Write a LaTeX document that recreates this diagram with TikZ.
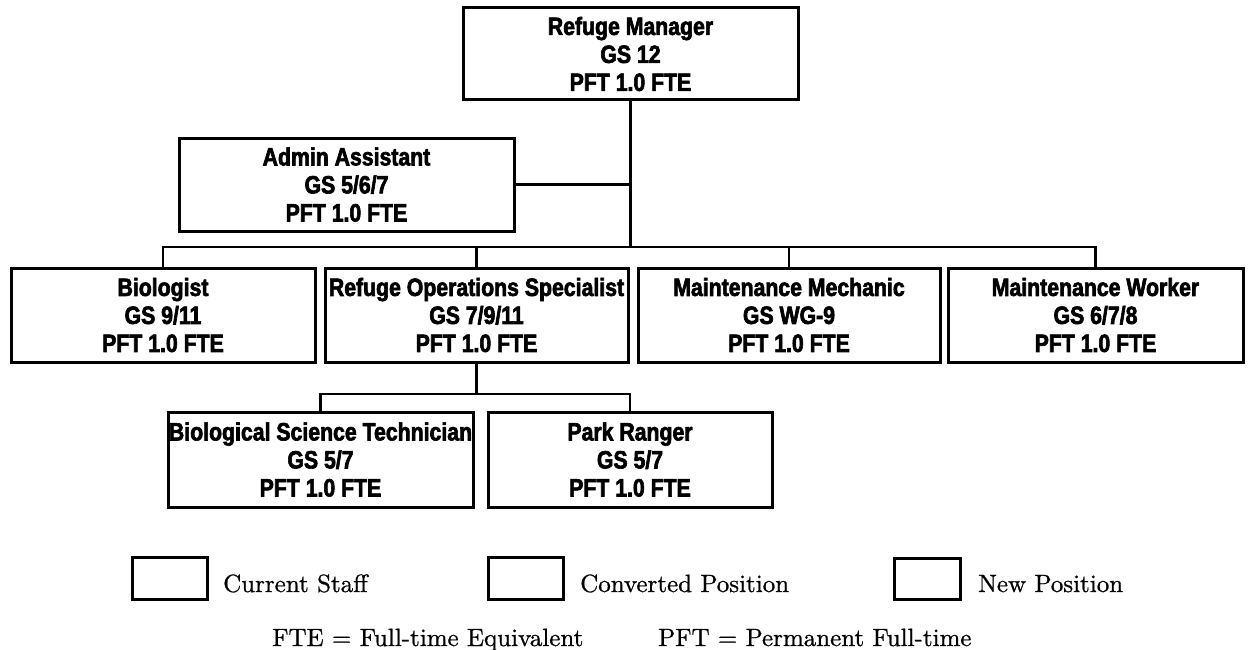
\documentclass[tikz,border=0pt]{standalone}
\usepackage{fontspec}
\newfontfamily\boxfont[FakeStretch=0.85,FakeBold=2.5]{Liberation Sans}
\newfontfamily\legfont[FakeBold=0.8]{lmroman10-regular.otf}
\begin{document}
\begin{tikzpicture}[x=1pt,y=-1pt,
  posbox/.style={draw=black, line width=3pt, rectangle, inner sep=0pt, align=center,
    font={\boxfont\bfseries\fontsize{25}{28}\selectfont}},
  legbox/.style={draw=black, line width=3pt, rectangle, inner sep=0pt},
  legtext/.style={anchor=base west, inner sep=0pt, font={\legfont\fontsize{25}{28}\selectfont}},
  conn/.style={line width=2.2pt}]
\useasboundingbox (0,0) rectangle (1252,650);
% positions
\node[posbox, minimum width=335pt, minimum height=92pt] (mgr) at (630.5,54) {Refuge Manager\\GS 12\\PFT 1.0 FTE};
\node[posbox, minimum width=335pt, minimum height=93pt] (admin) at (346.5,184.5) {Admin Assistant\\GS 5/6/7\\PFT 1.0 FTE};
\node[posbox, minimum width=304pt, minimum height=94pt] (bio) at (163,315) {Biologist\\GS 9/11\\PFT 1.0 FTE};
\node[posbox, minimum width=303pt, minimum height=94pt] (ops) at (476.5,315) {Refuge Operations Specialist\\GS 7/9/11\\PFT 1.0 FTE};
\node[posbox, minimum width=302pt, minimum height=94pt] (mech) at (789,315) {Maintenance Mechanic\\GS WG-9\\PFT 1.0 FTE};
\node[posbox, minimum width=295pt, minimum height=94pt] (work) at (1095.5,315) {Maintenance Worker\\GS 6/7/8\\PFT 1.0 FTE};
\node[posbox, minimum width=305pt, minimum height=95pt] (tech) at (320.5,459.5) {Biological Science Technician\\GS 5/7\\PFT 1.0 FTE};
\node[posbox, minimum width=284pt, minimum height=95pt] (ranger) at (630,459.5) {Park Ranger\\GS 5/7\\PFT 1.0 FTE};
% connectors
\coordinate (bus) at (0,247);
\coordinate (sub) at (0,394);
\draw[conn] (mgr.south) -- (mgr.south |- bus);
\draw[conn] (admin.east) -- (admin.east -| mgr.south);
\draw[conn] (bio.north) -- (bio.north |- bus) -- (work.north |- bus) -- (work.north);
\draw[conn] (ops.north) -- (ops.north |- bus);
\draw[conn] (mech.north) -- (mech.north |- bus);
\draw[conn] (ops.south) -- (ops.south |- sub);
\draw[conn] (tech.north) -- (tech.north |- sub) -- (ranger.north |- sub) -- (ranger.north);
% legend
\node[legbox, minimum width=75pt, minimum height=42pt] (lcur) at (169.5,578) {};
\node[legbox, minimum width=75pt, minimum height=42pt] (lconv) at (525.5,578) {};
\node[legbox, minimum width=66pt, minimum height=41pt] (lnew) at (927,578.5) {};
\node[legtext] (tcur) at (223,592) {Current Staff};
\node[legtext] (tconv) at (580,592) {Converted Position};
\node[legtext] (tnew) at (978,592) {New Position};
\node[legtext] (fte) at (272,646) {FTE = Full-time Equivalent};
\node[legtext] (pft) at (658,646) {PFT = Permanent Full-time};
\end{tikzpicture}
\end{document}
